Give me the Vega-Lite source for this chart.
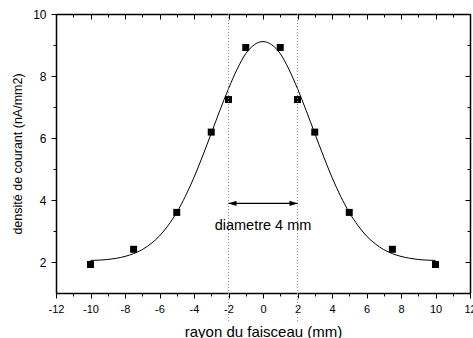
{
  "$schema": "https://vega.github.io/schema/vega-lite/v6.json",
  "width": 414,
  "height": 279,
  "autosize": "none",
  "padding": {"left": 56, "top": 14, "right": 3, "bottom": 45},
  "background": "white",
  "config": {
    "view": {"stroke": null},
    "axis": {
      "grid": false,
      "labelFont": "Liberation Sans",
      "titleFont": "Liberation Sans",
      "labelColor": "black",
      "titleColor": "black",
      "domainColor": "black",
      "tickColor": "black",
      "titleFontWeight": "normal",
      "labelFlush": false,
      "labelOverlap": false,
      "domainWidth": 1.5,
      "tickWidth": 1
    }
  },
  "datasets": {
    "pts": [
      {"x": -10, "y": 1.92}, {"x": -7.5, "y": 2.41}, {"x": -5, "y": 3.6},
      {"x": -3, "y": 6.19}, {"x": -2, "y": 7.24}, {"x": -1, "y": 8.92},
      {"x": 1, "y": 8.92}, {"x": 2, "y": 7.24}, {"x": 3, "y": 6.19},
      {"x": 5, "y": 3.6}, {"x": 7.5, "y": 2.41}, {"x": 10, "y": 1.92}
    ],
    "fit": [
      {"x": -10, "y": 2.05}, {"x": -9.5, "y": 2.06}, {"x": -9, "y": 2.08},
      {"x": -8.5, "y": 2.12}, {"x": -8, "y": 2.18}, {"x": -7.5, "y": 2.27},
      {"x": -7, "y": 2.4}, {"x": -6.5, "y": 2.59}, {"x": -6, "y": 2.84},
      {"x": -5.5, "y": 3.18}, {"x": -5, "y": 3.6}, {"x": -4.5, "y": 4.12},
      {"x": -4, "y": 4.73}, {"x": -3.5, "y": 5.42}, {"x": -3, "y": 6.15},
      {"x": -2.5, "y": 6.89}, {"x": -2, "y": 7.59}, {"x": -1.5, "y": 8.22},
      {"x": -1, "y": 8.72}, {"x": -0.5, "y": 9.01}, {"x": 0, "y": 9.11},
      {"x": 0.5, "y": 9.01}, {"x": 1, "y": 8.72}, {"x": 1.5, "y": 8.22},
      {"x": 2, "y": 7.59}, {"x": 2.5, "y": 6.89}, {"x": 3, "y": 6.15},
      {"x": 3.5, "y": 5.42}, {"x": 4, "y": 4.73}, {"x": 4.5, "y": 4.12},
      {"x": 5, "y": 3.6}, {"x": 5.5, "y": 3.18}, {"x": 6, "y": 2.84},
      {"x": 6.5, "y": 2.59}, {"x": 7, "y": 2.4}, {"x": 7.5, "y": 2.27},
      {"x": 8, "y": 2.18}, {"x": 8.5, "y": 2.12}, {"x": 9, "y": 2.08},
      {"x": 9.5, "y": 2.06}, {"x": 10, "y": 2.05}
    ],
    "guides": [{"x": -2, "y": 10, "y2": 0.03}, {"x": 2, "y": 10, "y2": 0.03}],
    "arrow": [{"x": -2, "x2": 2, "y": 3.89}],
    "heads": [{"x": -2, "y": 3.89, "side": "left"}, {"x": 2, "y": 3.89, "side": "right"}],
    "label": [{"x": 0, "y": 3.17, "text": "diametre 4 mm"}]
  },
  "layer": [
    {
      "data": {"name": "fit"},
      "mark": {"type": "line", "color": "black", "strokeWidth": 1, "interpolate": "monotone"},
      "encoding": {
        "x": {"field": "x", "type": "quantitative",
          "scale": {"domain": [-12, 12], "nice": false, "zero": false},
          "axis": {"orient": "bottom", "values": [-12, -10, -8, -6, -4, -2, 0, 2, 4, 6, 8, 10, 12],
            "labelExpr": "datum.value + ''",
            "tickSize": 5, "labelFontSize": 11, "labelPadding": 5,
            "title": "rayon du faisceau (mm)", "titleFontSize": 15, "titlePadding": 10}},
        "y": {"field": "y", "type": "quantitative",
          "scale": {"domain": [1, 10], "nice": false, "zero": false},
          "axis": {"orient": "left", "values": [2, 4, 6, 8, 10],
            "labelExpr": "datum.value + ''",
            "tickSize": 5, "labelFontSize": 12, "labelPadding": 5,
            "title": "densité de courant (nA/mm2)", "titleFontSize": 12.5, "titlePadding": 8}}
      }
    },
    {
      "data": {"name": "pts"},
      "mark": {"type": "point", "shape": "square", "filled": true, "color": "black", "size": 49, "opacity": 1},
      "encoding": {
        "x": {"field": "x", "type": "quantitative",
          "scale": {"domain": [-12, 12], "nice": false, "zero": false},
          "axis": {"orient": "top", "values": [-12, -10, -8, -6, -4, -2, 0, 2, 4, 6, 8, 10, 12],
            "tickSize": -5, "labels": false, "title": null}},
        "y": {"field": "y", "type": "quantitative",
          "scale": {"domain": [1, 10], "nice": false, "zero": false},
          "axis": {"orient": "right", "values": [2, 4, 6, 8, 10],
            "tickSize": -5, "labels": false, "title": null}}
      }
    },
    {
      "data": {"name": "guides"},
      "mark": {"type": "rule", "color": "#8c8c8c", "strokeWidth": 1, "strokeDash": [1, 2]},
      "encoding": {
        "x": {"field": "x", "type": "quantitative",
          "scale": {"domain": [-12, 12], "nice": false, "zero": false},
          "axis": {"orient": "bottom", "values": [-11, -9, -7, -5, -3, -1, 1, 3, 5, 7, 9, 11],
            "tickSize": 3, "labels": false, "domain": false, "title": null}},
        "y": {"field": "y", "type": "quantitative",
          "scale": {"domain": [1, 10], "nice": false, "zero": false},
          "axis": {"orient": "left", "values": [3, 5, 7, 9],
            "tickSize": 3, "labels": false, "domain": false, "title": null}},
        "y2": {"field": "y2"}
      }
    },
    {
      "data": {"name": "arrow"},
      "mark": {"type": "rule", "color": "black", "strokeWidth": 1.2},
      "encoding": {
        "x": {"field": "x", "type": "quantitative",
          "scale": {"domain": [-12, 12], "nice": false, "zero": false},
          "axis": {"orient": "top", "values": [-11, -9, -7, -5, -3, -1, 1, 3, 5, 7, 9, 11],
            "tickSize": -3, "labels": false, "domain": false, "title": null}},
        "x2": {"field": "x2"},
        "y": {"field": "y", "type": "quantitative",
          "scale": {"domain": [1, 10], "nice": false, "zero": false},
          "axis": {"orient": "right", "values": [3, 5, 7, 9],
            "tickSize": -3, "labels": false, "domain": false, "title": null}}
      }
    },
    {
      "data": {"name": "heads"},
      "mark": {"type": "point", "filled": true, "color": "black", "opacity": 1, "size": 64},
      "encoding": {
        "x": {"field": "x", "type": "quantitative", "scale": {"domain": [-12, 12], "nice": false, "zero": false}, "axis": null},
        "y": {"field": "y", "type": "quantitative", "scale": {"domain": [1, 10], "nice": false, "zero": false}, "axis": null},
        "shape": {"field": "side", "type": "nominal",
          "scale": {"domain": ["left", "right"], "range": ["M 0 0 L 2 -0.65 L 2 0.65 Z", "M 0 0 L -2 -0.65 L -2 0.65 Z"]},
          "legend": null}
      }
    },
    {
      "data": {"name": "label"},
      "mark": {"type": "text", "font": "Liberation Sans", "fontSize": 14.5, "color": "black", "align": "center", "baseline": "middle"},
      "encoding": {
        "x": {"field": "x", "type": "quantitative", "scale": {"domain": [-12, 12], "nice": false, "zero": false}, "axis": null},
        "y": {"field": "y", "type": "quantitative", "scale": {"domain": [1, 10], "nice": false, "zero": false}, "axis": null},
        "text": {"field": "text"}
      }
    }
  ],
  "resolve": {"axis": {"x": "independent", "y": "independent"}}
}
